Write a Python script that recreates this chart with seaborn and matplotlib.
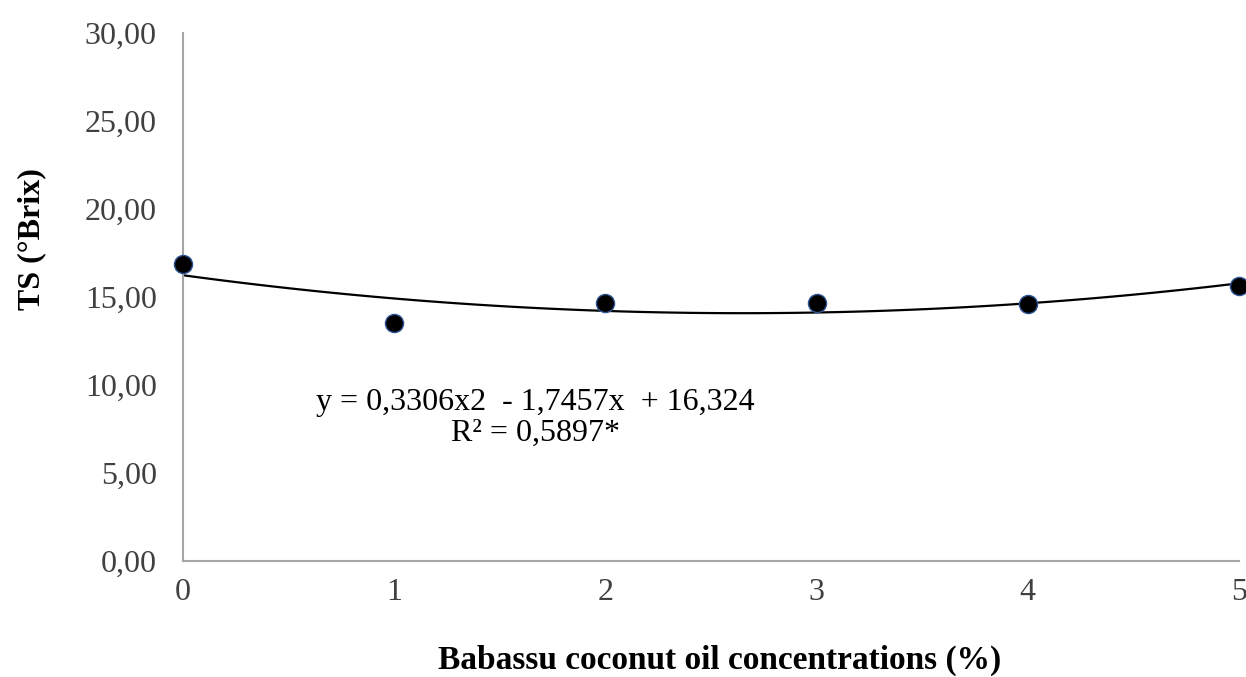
import numpy as np
import pandas as pd
import seaborn as sns
import matplotlib
matplotlib.use("Agg")
import matplotlib.pyplot as plt
from matplotlib.ticker import FuncFormatter

# Data
concentrations = [0, 1, 2, 3, 4, 5]
ts_values = [16.9, 13.5, 14.65, 14.65, 14.6, 15.6]
y_ticks = [0, 5, 10, 15, 20, 25, 30]
equation_text = "y = 0,3306x2  - 1,7457x  + 16,324"
r2_text = "R² = 0,5897*"
x_label = "Babassu coconut oil concentrations (%)"
y_label = "TS (°Brix)"

df = pd.DataFrame({"conc": concentrations, "ts": ts_values})

sns.set_theme(style="white")
plt.rcParams["font.family"] = ["Liberation Serif", "DejaVu Serif"]

fig = plt.figure(figsize=(12.46, 6.77), dpi=100)
ax = fig.add_axes([0.1469, 0.1713, 0.8475, 0.7800])

sns.regplot(data=df, x="conc", y="ts", order=2, ci=None, ax=ax,
            scatter=False, truncate=True,
            line_kws=dict(color="black", lw=1.6, zorder=2))
sns.scatterplot(data=df, x="conc", y="ts", ax=ax, s=170, color="black",
                edgecolor="#2f5597", linewidth=1.0, zorder=3, clip_on=False)

ax.set_xlim(0, 5)
ax.set_ylim(0, 30)
ax.set_yticks(y_ticks)
ax.set_xticks(concentrations)
ax.yaxis.set_major_formatter(FuncFormatter(lambda v, p: f"{v:.2f}".replace(".", ",")))
ax.tick_params(axis="both", labelsize=23, colors="#404040", length=0)
ax.tick_params(axis="y", pad=19)
ax.tick_params(axis="x", pad=12)

for side in ["top", "right"]:
    ax.spines[side].set_visible(False)
for side in ["left", "bottom"]:
    ax.spines[side].set_color("#a6a6a6")
    ax.spines[side].set_linewidth(1.5)

ax.set_xlabel(x_label, fontsize=24, fontweight="bold", color="black", va="center")
ax.set_ylabel(y_label, fontsize=23, fontweight="bold", color="black", va="center")
ax.xaxis.set_label_coords(0.508, -0.1875)
ax.yaxis.set_label_coords(-0.143, 0.61)
ax.grid(False)

ax.text(1.67, 9.03, equation_text, fontsize=23, ha="center", va="center", color="black")
ax.text(1.67, 7.27, r2_text, fontsize=23, ha="center", va="center", color="black")

fig.savefig("out.png", dpi=100)
